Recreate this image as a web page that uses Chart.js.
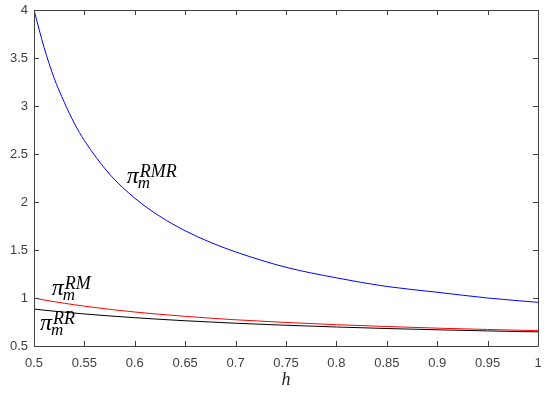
<!DOCTYPE html>
<html>
<head>
<meta charset="utf-8">
<script src="https://cdn.jsdelivr.net/npm/chart.js@4.4.1/dist/chart.umd.min.js"></script>
<style>
html,body{margin:0;padding:0;background:#fff;}
#wrap{width:550px;height:395px;position:relative;}
</style>
</head>
<body>
<div id="wrap"><canvas id="c" width="550" height="395"></canvas></div>
<script>
// h values (x axis)
const hValues = [0.5,0.51,0.52,0.53,0.54,0.55,0.575,0.6,0.625,0.65,0.675,0.7,0.75,0.8,0.85,0.9,0.95,1.0];
// pi_m^RMR (blue)
const piRMR = [4.00,3.61,3.29,3.04,2.82,2.64,2.29,2.04,1.85,1.70,1.58,1.48,1.32,1.21,1.12,1.06,1.00,0.955];
// pi_m^RM (red)
const piRM  = [1.00,0.980,0.962,0.945,0.930,0.915,0.882,0.854,0.830,0.809,0.790,0.773,0.745,0.722,0.703,0.686,0.672,0.660];
// pi_m^RR (black)
const piRR  = [0.885,0.873,0.863,0.853,0.843,0.834,0.813,0.795,0.778,0.763,0.750,0.737,0.716,0.698,0.682,0.669,0.657,0.647];
// tick labels
const xTickLabels = ['0.5','0.55','0.6','0.65','0.7','0.75','0.8','0.85','0.9','0.95','1'];
const yTickLabels = ['0.5','1','1.5','2','2.5','3','3.5','4'];
// curve annotations anchored in data units
const curveLabels = [
  {sup:'RMR', h:0.592, v:2.198},
  {sup:'RM',  h:0.5175, v:1.031},
  {sup:'RR',  h:0.506, v:0.667}
];
const xTitle = 'h';

const pts = arr => hValues.map((h,i)=>({x:h,y:arr[i]}));
const axisColor = '#404040';

const boxPlugin = {
  id:'box',
  afterDraw(chart){
    const ctx = chart.ctx, a = chart.chartArea;
    const xs = chart.scales.x, ys = chart.scales.y;
    ctx.save();
    ctx.strokeStyle = axisColor;
    ctx.lineWidth = 1;
    ctx.beginPath();
    ctx.rect(Math.round(a.left)+0.5, Math.round(a.top)+0.5, Math.round(a.right-a.left), Math.round(a.bottom-a.top));
    ctx.stroke();
    const tl = 5;
    ctx.beginPath();
    xs.ticks.forEach(t=>{
      const px = Math.round(xs.getPixelForValue(t.value))+0.5;
      ctx.moveTo(px,a.bottom); ctx.lineTo(px,a.bottom-tl);
      ctx.moveTo(px,a.top); ctx.lineTo(px,a.top+tl);
    });
    ys.ticks.forEach(t=>{
      const py = Math.round(ys.getPixelForValue(t.value))+0.5;
      ctx.moveTo(a.left,py); ctx.lineTo(a.left+tl,py);
      ctx.moveTo(a.right,py); ctx.lineTo(a.right-tl,py);
    });
    ctx.stroke();
    // curve labels
    ctx.fillStyle = '#000';
    ctx.textBaseline = 'alphabetic';
    curveLabels.forEach(l=>{
      const x0 = xs.getPixelForValue(l.h), b = ys.getPixelForValue(l.v);
      ctx.font = 'italic 24px "Liberation Serif"';
      ctx.textAlign = 'left';
      ctx.fillText('\u03C0', x0, b);
      const w = ctx.measureText('\u03C0').width;
      ctx.font = 'italic 18px "Liberation Serif"';
      ctx.fillText(l.sup, x0+w+1, b-6);
      ctx.font = 'italic 17px "Liberation Serif"';
      ctx.fillText('m', x0+w-1, b+5);
    });
    // x axis title
    ctx.font = 'italic 18px "Liberation Serif"';
    ctx.textAlign = 'center';
    ctx.fillStyle = '#262626';
    ctx.fillText(xTitle, (a.left+a.right)/2, 385);
    ctx.restore();
  }
};

new Chart(document.getElementById('c'), {
  type:'line',
  data:{
    datasets:[
      {label:'RMR', data:pts(piRMR), borderColor:'#0000ff', borderWidth:1, pointRadius:0, tension:0.4, cubicInterpolationMode:'monotone', fill:false},
      {label:'RM',  data:pts(piRM),  borderColor:'#ff0000', borderWidth:1, pointRadius:0, tension:0.4, cubicInterpolationMode:'monotone', fill:false},
      {label:'RR',  data:pts(piRR),  borderColor:'#000000', borderWidth:1, pointRadius:0, tension:0.4, cubicInterpolationMode:'monotone', fill:false}
    ]
  },
  options:{
    responsive:false,
    animation:false,
    devicePixelRatio:1,
    layout:{autoPadding:false, padding:{top:10,right:12,left:0,bottom:0}},
    plugins:{legend:{display:false},tooltip:{enabled:false}},
    scales:{
      x:{
        type:'linear', min:0.5, max:1,
        grid:{display:false, drawTicks:false},
        border:{display:false},
        afterFit(s){ s.height = 49; s.paddingLeft = 0; s.paddingRight = 0; },
        afterBuildTicks(s){ s.ticks = xTickLabels.map(v=>({value:parseFloat(v)})); },
        ticks:{
          padding:10, maxRotation:0, autoSkip:false,
          color:axisColor, font:{family:'"Liberation Sans", Arial, sans-serif', size:13},
          callback:(v,i)=>xTickLabels[i]
        }
      },
      y:{
        type:'linear', min:0.5, max:4,
        grid:{display:false, drawTicks:false},
        border:{display:false},
        afterFit(s){ s.width = 34; s.paddingTop = 0; s.paddingBottom = 0; },
        afterBuildTicks(s){ s.ticks = yTickLabels.map(v=>({value:parseFloat(v)})); },
        ticks:{
          padding:6, autoSkip:false,
          color:axisColor, font:{family:'"Liberation Sans", Arial, sans-serif', size:13},
          callback:(v,i)=>yTickLabels[i]
        }
      }
    }
  },
  plugins:[boxPlugin]
});
</script>
</body>
</html>
